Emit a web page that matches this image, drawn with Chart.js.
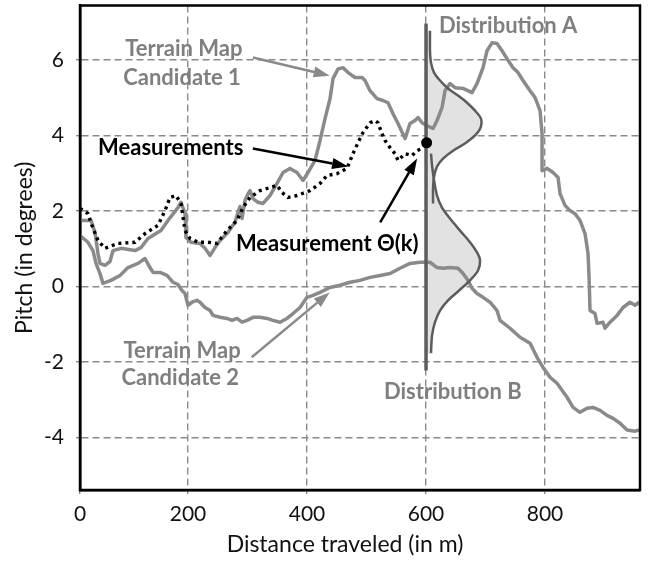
<!DOCTYPE html>
<html><head><meta charset="utf-8">
<style>html,body{margin:0;padding:0;background:#fff}</style>
<script src="https://cdn.jsdelivr.net/npm/chart.js@4.4.1/dist/chart.umd.min.js"></script>
</head><body>
<canvas id="c" width="651" height="561"></canvas>
<script>
// ---------- data ----------
const xTicks = [0, 200, 400, 600, 800];
const yTicks = [-4, -2, 0, 2, 4, 6];
const xRange = [18.5, 959.6];
const yRange = [-5.4, 7.45];
const xTitle = 'Distance traveled (in m)';
const yTitle = 'Pitch (in degrees)';

const candidate1 = [[18.5,1.75],[37,1.75],[43.7,1.43],[48.7,0.87],[52.1,0.61],[60.5,0.56],[68.9,0.66],[74,0.95],[87.4,1.01],[110.9,0.95],[121,1.03],[132.8,1.27],[146.2,1.40],[154.6,1.48],[166.4,1.75],[183.2,2.09],[188.2,2.23],[195,1.93],[196.6,1.30],[205,1.17],[220.2,1.14],[228.6,1.01],[237,0.82],[245.4,1.03],[253.8,1.22],[267.2,1.43],[279,1.70],[284,1.96],[287.4,2.12],[290.8,1.80],[295.8,2.28],[300.9,2.46],[304.2,2.54],[309.2,2.33],[317.7,2.23],[326.1,2.20],[337.8,2.41],[349.6,2.73],[359.7,3.02],[371.4,3.13],[383.2,3.02],[393.3,2.81],[401.7,3.02],[413.4,3.34],[421.9,3.87],[430.3,4.45],[438.7,4.98],[443.7,5.51],[452.2,5.77],[460.6,5.80],[469,5.67],[480.7,5.54],[492.4,5.54],[497.5,5.46],[505.9,5.19],[517.7,4.98],[527.7,4.93],[536.1,4.87],[544.5,4.58],[553,4.32],[564.7,3.92],[573.1,4.32],[581.5,4.40],[586.6,4.48],[593.3,4.34],[601.7,4.26],[611.8,4.19],[618.5,4.40],[626.9,4.74],[631.9,5.19],[640.3,5.38],[648.8,5.27],[662.2,5.25],[677.3,5.14],[685.7,5.38],[695.8,5.80],[702.5,6.25],[710.9,6.46],[719.3,6.44],[727.7,6.25],[736.1,6.04],[746.2,5.80],[754.6,5.67],[763,5.46],[774.8,5.19],[783.2,5.01],[791.6,4.66],[795,4.05],[795,3.07],[803.4,3.13],[813.5,3.02],[821.9,2.89],[825.2,2.46],[833.6,2.15],[842,2.01],[850.4,1.93],[858.8,1.75],[867.2,1.40],[872.3,0.87],[874,0.24],[875.6,-0.64],[884,-0.72],[887.4,-0.98],[897.5,-0.95],[900.8,-1.11],[909.3,-0.95],[921,-0.77],[931.1,-0.56],[942.8,-0.42],[951.3,-0.50],[958,-0.42]];

const candidate2 = [[18.5,1.35],[31.9,1.17],[40.3,0.95],[45.4,0.61],[52.1,0.34],[57.1,0.08],[70.6,0.16],[85.7,0.29],[99.2,0.50],[116,0.61],[127.7,0.74],[136.1,0.50],[141.2,0.37],[152.9,0.37],[164.7,0.29],[174.8,0.11],[183.2,0.05],[189.9,-0.11],[195,-0.19],[200,-0.50],[206.7,-0.42],[215.1,-0.37],[220.2,-0.42],[228.6,-0.56],[237,-0.64],[242,-0.77],[253.8,-0.82],[265.5,-0.85],[274,-0.90],[282.4,-0.85],[290.8,-0.95],[299.2,-0.90],[309.2,-0.82],[321,-0.82],[332.8,-0.85],[342.9,-0.90],[354.6,-0.95],[366.4,-0.85],[376.5,-0.72],[388.2,-0.56],[400,-0.29],[410.1,-0.24],[421.9,-0.16],[438.7,-0.03],[455.5,0.03],[472.3,0.11],[489.1,0.16],[505.9,0.24],[522.7,0.29],[539.5,0.34],[556.3,0.48],[573.1,0.61],[589.9,0.64],[606.7,0.64],[618.5,0.50],[628.6,0.48],[640.3,0.50],[653.8,0.48],[662.2,0.34],[670.6,0.16],[677.3,-0.05],[685.7,-0.19],[695.8,-0.29],[707.6,-0.42],[719.3,-0.64],[724.4,-0.90],[741.2,-1.11],[758,-1.35],[774.8,-1.51],[786.6,-1.88],[796.7,-2.15],[808.4,-2.41],[820.2,-2.57],[837,-2.94],[847.1,-3.21],[858.8,-3.34],[870.6,-3.23],[880.7,-3.21],[892.5,-3.29],[904.2,-3.42],[914.3,-3.50],[926.1,-3.63],[937.8,-3.81],[951.3,-3.84],[958,-3.81]];

const measurements = [[18.5,2.07],[31.9,1.93],[40.3,1.54],[48.7,1.22],[60.5,1.01],[82.4,1.14],[110.9,1.17],[127.7,1.40],[149.6,1.62],[161.3,2.01],[169.8,2.36],[179.8,2.41],[188.2,2.20],[195,1.48],[203.4,1.27],[216.8,1.17],[233.6,1.17],[248.7,1.14],[265.5,1.48],[282.4,1.75],[292.4,2.09],[304.2,2.36],[321,2.54],[337.8,2.62],[349.6,2.68],[358,2.49],[368.1,2.36],[383.2,2.41],[405,2.54],[421.9,2.73],[433.6,2.94],[450.4,2.99],[467.2,3.13],[477.3,3.52],[485.7,3.81],[494.1,4.08],[505.9,4.34],[514.3,4.40],[519.3,4.34],[526.1,4.05],[531.1,3.87],[539.5,3.68],[547.9,3.52],[553,3.34],[564.7,3.52],[576.5,3.47],[584.9,3.60],[593.3,3.66],[601.7,3.81]];

const measurementPoint = [[601, 3.81]];
const measurementLine = [[600, 6.97], [600, -2.23]];
const distBase = 600;

const distributionA = [[606.7,6.78],[606.7,6.25],[608.4,5.93],[613.5,5.67],[623.5,5.46],[637,5.25],[653.8,5.06],[668.9,4.87],[682.4,4.66],[692.4,4.45],[692.4,4.24],[684,4.03],[667.2,3.81],[645.4,3.60],[628.6,3.39],[618.5,3.18],[613.5,2.91],[611.8,2.60],[611.8,2.20]];
const distributionB = [[608.4,3.52],[610.1,3.21],[613.5,2.81],[618.5,2.41],[626.9,2.09],[640.3,1.80],[657.2,1.48],[674,1.17],[685.7,0.90],[690.8,0.69],[687.4,0.42],[674,0.16],[655.5,-0.11],[637,-0.37],[623.5,-0.64],[615.1,-0.95],[610.1,-1.30],[608.4,-1.77]];

// ---------- helpers ----------
const pts = a => a.map(p => ({x: p[0], y: p[1]}));
const closeToBase = a => pts(a.concat([[distBase, a[a.length-1][1]], [distBase, a[0][1]]]));

const GREY = '#8a8a8a', TEXTGREY = '#7f7f7f', DARK = '#5c5c5c';

// annotations (label text + anchor in data units)
const labels = [
  {t: 'Terrain Map', x: 193, y: 6.30, c: TEXTGREY},
  {t: 'Candidate 1', x: 190, y: 5.54, c: TEXTGREY},
  {t: 'Measurements', x: 171, y: 3.68, c: '#000'},
  {t: 'Measurement \u0398(k)', x: 434, y: 1.14, c: '#000'},
  {t: 'Distribution A', x: 738, y: 6.91, c: TEXTGREY},
  {t: 'Distribution B', x: 645, y: -2.81, c: TEXTGREY},
  {t: 'Terrain Map', x: 190, y: -1.70, c: TEXTGREY},
  {t: 'Candidate 2', x: 187, y: -2.44, c: TEXTGREY}
];
const arrows = [
  {from: [309, 6.07], to: [438, 5.59], c: GREY},
  {from: [309, 3.66], to: [469, 3.18], c: '#000'},
  {from: [523, 1.70], to: [585, 3.39], c: '#000'},
  {from: [307, -1.88], to: [438, -0.16], c: GREY}
];

const overlay = {
  id: 'overlay',
  afterDatasetsDraw(chart) {
    const {ctx, chartArea: a, scales: {x, y}} = chart;
    ctx.save();
    ctx.strokeStyle = '#000';
    ctx.lineWidth = 2.5;
    ctx.strokeRect(a.left, a.top, a.right - a.left, a.bottom - a.top);
    arrows.forEach(ar => {
      const x1 = x.getPixelForValue(ar.from[0]), y1 = y.getPixelForValue(ar.from[1]);
      const x2 = x.getPixelForValue(ar.to[0]), y2 = y.getPixelForValue(ar.to[1]);
      const ang = Math.atan2(y2 - y1, x2 - x1);
      const hl = 16, hw = 5.5;
      const bx = x2 - hl * Math.cos(ang), by = y2 - hl * Math.sin(ang);
      ctx.strokeStyle = ar.c; ctx.fillStyle = ar.c; ctx.lineWidth = 2.5;
      ctx.beginPath(); ctx.moveTo(x1, y1); ctx.lineTo(bx, by); ctx.stroke();
      ctx.beginPath();
      ctx.moveTo(x2, y2);
      ctx.lineTo(bx + hw * Math.sin(ang), by - hw * Math.cos(ang));
      ctx.lineTo(bx - hw * Math.sin(ang), by + hw * Math.cos(ang));
      ctx.closePath(); ctx.fill();
    });
    ctx.font = 'bold 22px Lato';
    ctx.textAlign = 'center';
    ctx.textBaseline = 'middle';
    labels.forEach(l => {
      ctx.fillStyle = l.c;
      ctx.fillText(l.t, x.getPixelForValue(l.x), y.getPixelForValue(l.y));
    });
    // x axis title (set slightly left of centre, as in the reference)
    ctx.font = '23px Lato';
    ctx.fillStyle = '#111';
    ctx.fillText(xTitle, a.left + 265, chart.height - 16);
    ctx.restore();
  }
};

Chart.defaults.font.family = 'Lato';
Chart.defaults.color = '#111';

new Chart(document.getElementById('c'), {
  type: 'line',
  data: {
    datasets: [
      {data: pts(measurementPoint), showLine: false, pointRadius: 5.5, pointBackgroundColor: '#000', pointBorderWidth: 0},
      {data: pts(measurementLine), borderColor: DARK, borderWidth: 3.5, pointRadius: 0},
      {data: pts(distributionA), borderColor: DARK, borderWidth: 2.5, pointRadius: 0, tension: 0.3},
      {data: pts(distributionB), borderColor: DARK, borderWidth: 2.5, pointRadius: 0, tension: 0.3},
      {data: pts(measurements), borderColor: '#000', borderWidth: 3.4, borderDash: [3, 4], borderCapStyle: 'butt', pointRadius: 0},
      {data: pts(candidate1), borderColor: GREY, borderWidth: 3.5, pointRadius: 0, borderJoinStyle: 'round'},
      {data: pts(candidate2), borderColor: GREY, borderWidth: 3.5, pointRadius: 0, borderJoinStyle: 'round'},
      {data: closeToBase(distributionA), borderWidth: 0, pointRadius: 0, fill: 'shape', backgroundColor: '#e2e2e2', tension: 0.3},
      {data: closeToBase(distributionB), borderWidth: 0, pointRadius: 0, fill: 'shape', backgroundColor: '#e2e2e2', tension: 0.3}
    ]
  },
  options: {
    responsive: false,
    animation: false,
    layout: {padding: {left: 0, right: 11, top: 5, bottom: 0}},
    plugins: {legend: {display: false}, tooltip: {enabled: false}},
    scales: {
      x: {
        type: 'linear', min: xRange[0], max: xRange[1],
        afterBuildTicks: ax => { ax.ticks = xTicks.map(v => ({value: Math.max(v, ax.min)})); },
        afterFit: ax => { ax.height = 71; ax.paddingLeft = 0; ax.paddingRight = 0; },
        ticks: {autoSkip: false, maxRotation: 0, padding: 8, font: {size: 21}, color: '#111',
                callback: (v, i) => String(xTicks[i])},
        grid: {color: GREY, lineWidth: 1.4, tickLength: 4},
        border: {color: '#000', width: 2.5, dash: [7, 4]},
        title: {display: false}
      },
      y: {
        type: 'linear', min: yRange[0], max: yRange[1],
        afterBuildTicks: ax => { ax.ticks = yTicks.map(v => ({value: v})); },
        afterFit: ax => { ax.width = 80; ax.paddingTop = 0; ax.paddingBottom = 0; },
        ticks: {autoSkip: false, padding: 12, font: {size: 21}, color: '#111'},
        grid: {color: GREY, lineWidth: 1.4, tickLength: 4},
        border: {color: '#000', width: 2.5, dash: [7, 4]},
        title: {display: true, text: yTitle, font: {size: 23}, color: '#111', padding: {top: 11, bottom: 4}}
      }
    }
  },
  plugins: [overlay]
});
</script>
</body></html>
